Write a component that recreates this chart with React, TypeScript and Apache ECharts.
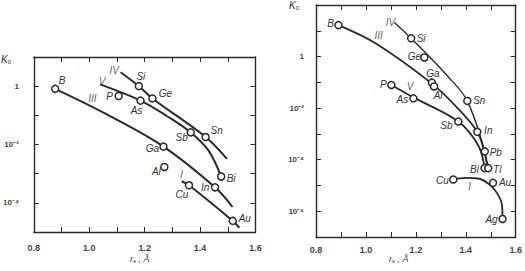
import React, { useEffect, useRef } from "react";
import * as echarts from "echarts";

// ---------- Left panel (host: Si) ----------
const leftNames = ["B", "P", "Si", "Ge", "As", "Sb", "Sn", "Ga", "Al", "Bi", "In", "Cu", "Au"];
const leftR = [0.877, 1.106, 1.179, 1.228, 1.185, 1.366, 1.42, 1.268, 1.271, 1.476, 1.454, 1.36, 1.518];
const leftK = [0.81, 0.46, 1.0, 0.38, 0.32, 0.026, 0.018, 0.0085, 0.0017, 8e-4, 3.4e-4, 4e-4, 2.4e-5];

const leftIII_r = [0.877, 1.07, 1.268, 1.454, 1.517];
const leftIII_K = [0.81, 0.1, 0.0085, 3.4e-4, 7.2e-5];
const leftV_r = [1.039, 1.185, 1.28, 1.366, 1.43, 1.476];
const leftV_K = [1.15, 0.32, 0.095, 0.026, 0.0063, 8e-4];
const leftIV_r = [1.113, 1.179, 1.228, 1.42, 1.497];
const leftIV_K = [3.0, 1.0, 0.38, 0.018, 0.0032];
const leftI_r = [1.333, 1.36, 1.518, 1.542];
const leftI_K = [5.5e-4, 4e-4, 2.4e-5, 1.4e-5];

const leftGroupNames = ["III", "V", "IV", "I"];
const leftGroupR = [1.011, 1.046, 1.09, 1.333];
const leftGroupK = [0.38, 1.45, 3.5, 9.5e-4];

// ---------- Right panel (host: Ge) ----------
const rightNames = ["B", "Si", "Ge", "Ga", "Al", "P", "As", "Sn", "Sb", "In", "Pb", "Bi", "Tl", "Cu", "Au", "Ag"];
const rightR = [0.89, 1.181, 1.234, 1.264, 1.273, 1.102, 1.19, 1.406, 1.37, 1.446, 1.476, 1.475, 1.49, 1.35, 1.509, 1.547];
const rightK = [16.6, 5.1, 0.92, 0.098, 0.069, 0.079, 0.024, 0.019, 0.003, 0.0012, 2.1e-4, 4.7e-5, 4.7e-5, 1.7e-5, 1.26e-5, 5e-7];

const rightIII_r = [0.89, 1.04, 1.268, 1.371, 1.446, 1.471, 1.49];
const rightIII_K = [16.6, 3.2, 0.083, 0.0091, 0.0012, 2.6e-4, 4.7e-5];
const rightIV_r = [1.114, 1.181, 1.332, 1.406, 1.476, 1.483];
const rightIV_K = [21, 5.1, 0.155, 0.019, 2.1e-4, 6e-5];
const rightV_r = [1.102, 1.19, 1.37, 1.451, 1.475];
const rightV_K = [0.079, 0.026, 0.003, 3.4e-4, 4.7e-5];
const rightI_r = [1.35, 1.4, 1.45, 1.5, 1.53, 1.545, 1.547];
const rightI_K = [1.7e-5, 1.95e-5, 1.86e-5, 9.8e-6, 4.2e-6, 1.74e-6, 5e-7];

const rightGroupNames = ["IV", "III", "V", "I"];
const rightGroupR = [1.098, 1.051, 1.177, 1.415];
const rightGroupK = [21, 6.3, 0.069, 9.1e-6];

// label offsets (pixels) for element labels
const leftOffsets: Record<string, [number, number]> = {
  B: [7, -8], P: [-9, 0], Si: [2, -10], Ge: [13, -5], As: [-4, 10], Sb: [-9, 5], Sn: [11, -7],
  Ga: [-11, 2], Al: [-8, 5], Bi: [10, 2], In: [-10, 0], Cu: [-7, 9], Au: [12, -2],
};
const rightOffsets: Record<string, [number, number]> = {
  B: [-8, -2], Si: [10, 0], Ge: [-10, -1], Ga: [1, -9], Al: [4, 9], P: [-8, 0], As: [-11, 1],
  Sn: [12, 0], Sb: [-12, 4], In: [11, -1], Pb: [11, 1], Bi: [-10, 1], Tl: [9, 1], Cu: [-11, 1],
  Au: [12, 0], Ag: [-11, 1],
};

const FONT = "Liberation Sans, Arial, sans-serif";
const INK = "#2a2a2a";

const supMap: Record<string, string> = { "-2": "10⁻²", "-4": "10⁻⁴", "-6": "10⁻⁶", "0": "1" };

function pts(r: number[], k: number[]) {
  return r.map((x, i) => [x, Math.log10(k[i])]);
}

function xAxes(gridIndex: number, margin: number) {
  const common = {
    type: "value" as const,
    gridIndex,
    min: 0.8,
    max: 1.6,
    interval: 0.1,
    axisLine: { show: true, onZero: false, lineStyle: { color: INK, width: 1.4 } },
    axisTick: { show: true, inside: true, length: 5, lineStyle: { color: INK, width: 1 } },
    splitLine: { show: false },
  };
  return [
    {
      ...common,
      position: "bottom",
      axisLabel: {
        margin,
        fontSize: 9,
        fontFamily: FONT,
        fontWeight: "bold",
        color: "#444",
        formatter: (v: number) => {
          const t = Math.round(v * 10);
          return t % 2 === 0 ? (t / 10).toFixed(1) : "";
        },
      },
    },
    { ...common, position: "top", axisLabel: { show: false } },
  ];
}

function yAxes(gridIndex: number, min: number, max: number, margin: number) {
  const common = {
    type: "value" as const,
    gridIndex,
    min,
    max,
    interval: 1,
    axisLine: { show: true, onZero: false, lineStyle: { color: INK, width: 1.4 } },
    axisTick: { show: true, inside: true, length: 5, lineStyle: { color: INK, width: 1 } },
    splitLine: { show: false },
  };
  return [
    {
      ...common,
      position: "left",
      axisLabel: {
        margin,
        fontSize: 8,
        fontFamily: FONT,
        fontWeight: "bold",
        color: "#444",
        formatter: (v: number) => supMap[String(Math.round(v))] ?? "",
      },
    },
    { ...common, position: "right", axisLabel: { show: false } },
  ];
}

function curve(r: number[], k: number[], xi: number, yi: number, width = 1.8) {
  return {
    type: "line",
    xAxisIndex: xi,
    yAxisIndex: yi,
    data: pts(r, k),
    smooth: 0.35,
    showSymbol: false,
    symbol: "none",
    lineStyle: { color: INK, width },
    silent: true,
    z: 2,
  };
}

function markers(names: string[], r: number[], k: number[], offs: Record<string, [number, number]>, xi: number, yi: number) {
  return {
    type: "scatter",
    xAxisIndex: xi,
    yAxisIndex: yi,
    symbol: "circle",
    symbolSize: 7,
    itemStyle: { color: "#fff", borderColor: INK, borderWidth: 1.5, opacity: 1 },
    data: names.map((n, i) => ({
      name: n,
      value: [r[i], Math.log10(k[i])],
      label: { offset: offs[n] || [0, 0] },
    })),
    label: {
      show: true,
      position: "inside",
      formatter: "{b}",
      fontSize: 10,
      fontStyle: "italic",
      fontFamily: FONT,
      color: "#333",
    },
    z: 5,
  };
}

function groupLabels(names: string[], r: number[], k: number[], xi: number, yi: number) {
  return {
    type: "scatter",
    xAxisIndex: xi,
    yAxisIndex: yi,
    symbolSize: 0,
    data: names.map((n, i) => ({ name: n, value: [r[i], Math.log10(k[i])] })),
    label: {
      show: true,
      position: "inside",
      formatter: "{b}",
      fontSize: 10,
      fontStyle: "italic",
      fontFamily: FONT,
      color: "#333",
    },
    silent: true,
    z: 4,
  };
}

const kRich = {
  k: { fontSize: 10, fontStyle: "italic", fontFamily: FONT, fill: "#333" },
  s: { fontSize: 6, fontFamily: FONT, fill: "#333", padding: [5, 0, 0, 0] },
};
const rRich = {
  r: { fontSize: 9, fontStyle: "italic", fontFamily: FONT, fill: "#333" },
  s: { fontSize: 6, fontFamily: FONT, fill: "#333", padding: [4, 0, 0, 0] },
  n: { fontSize: 9, fontStyle: "italic", fontFamily: FONT, fill: "#333" },
};

export default function App() {
  const ref = useRef<HTMLDivElement>(null);
  useEffect(() => {
    document.body.style.margin = "0";
    const chart = echarts.init(ref.current!, null, { renderer: "svg" });
    chart.setOption({
      animation: false,
      backgroundColor: "#fff",
      grid: [
        { left: 27.5, top: 57, width: 228, height: 175 },
        { left: 316, top: 5, width: 202, height: 232 },
      ],
      xAxis: [...xAxes(0, 11), ...xAxes(1, 8)],
      yAxis: [...yAxes(0, -5, 1, 15), ...yAxes(1, -7, 2, 12)],
      series: [
        curve(leftIII_r, leftIII_K, 0, 0, 2),
        curve(leftV_r, leftV_K, 0, 0, 2),
        curve(leftIV_r, leftIV_K, 0, 0, 2),
        curve(leftI_r, leftI_K, 0, 0, 2),
        markers(leftNames, leftR, leftK, leftOffsets, 0, 0),
        groupLabels(leftGroupNames, leftGroupR, leftGroupK, 0, 0),
        curve(rightIII_r, rightIII_K, 2, 2, 1.8),
        curve(rightIV_r, rightIV_K, 2, 2, 1.4),
        curve(rightV_r, rightV_K, 2, 2, 1.8),
        curve(rightI_r, rightI_K, 2, 2, 1.8),
        markers(rightNames, rightR, rightK, rightOffsets, 2, 2),
        groupLabels(rightGroupNames, rightGroupR, rightGroupK, 2, 2),
      ],
      graphic: [
        { type: "text", left: 1, top: 54, style: { text: "{k|K}{s|0}", rich: kRich } },
        { type: "text", left: 289, top: 0, style: { text: "{k|K}{s|0}", rich: kRich } },
        { type: "text", left: 130, top: 254, style: { text: "{r|r}{s|s}{n| , Å}", rich: rRich } },
        { type: "text", left: 389, top: 254, style: { text: "{r|r}{s|s}{n| , Å}", rich: rRich } },
      ],
    });
    return () => chart.dispose();
  }, []);
  return <div ref={ref} style={{ position: "absolute", left: 0, top: 0, width: 525, height: 271 }} />;
}
